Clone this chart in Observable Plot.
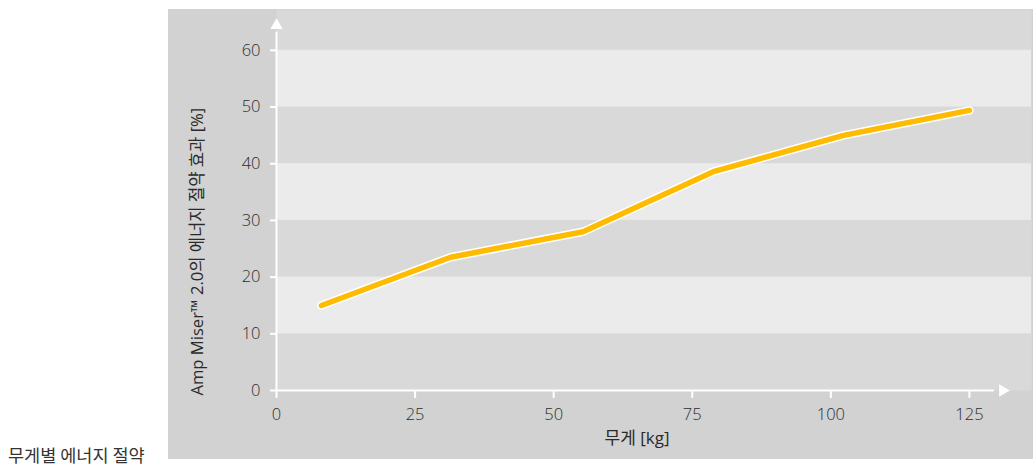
<!DOCTYPE html>
<html>
<head>
<meta charset="utf-8">
<script src="https://cdn.jsdelivr.net/npm/d3@7"></script>
<script src="https://cdn.jsdelivr.net/npm/@observablehq/plot@0.6"></script>
<style>
  html, body { margin: 0; padding: 0; background: #ffffff; }
  body { width: 1033px; height: 465px; position: relative; overflow: hidden;
         font-family: "Open Sans", "Noto Sans CJK KR", sans-serif; }
  #chart { position: absolute; left: 168px; top: 9px; }
  #caption { position: absolute; left: 8px; top: 443px; font-size: 17.5px; line-height: 24px; color: #333333;
             font-family: "Noto Sans CJK KR", sans-serif; font-weight: 400; }
</style>
</head>
<body>
<div id="chart"></div>
<div id="caption">무게별 에너지 절약</div>
<script>
// ---- data ----
const weights = [8.1, 31.4, 55.3, 78.8, 102.3, 125.0];
const savings = [15.0, 23.5, 28.0, 38.6, 45.0, 49.4];
const xTicks = [0, 25, 50, 75, 100, 125];
const yTicks = [0, 10, 20, 30, 40, 50, 60];
const bandStarts = [10, 30, 50];          // lighter horizontal bands (each 10 wide)
const xLabel = "무게 [kg]";
const yLabel = "Amp Miser™ 2.0의 에너지 절약 효과 [%]";
const xDomain = [0, 136.2];
const yDomain = [0, 67.2];
const xAxisEnd = 129.5;   // where the x axis line meets its arrowhead
const yAxisEnd = 63.2;    // where the y axis line meets its arrowhead
const xArrowAt = 131.0;
const yArrowAt = 64.4;

const data = weights.map((w, i) => ({w, s: savings[i]}));
const bands = bandStarts.map(b => ({y1: b, y2: b + 10}));

const textColor = "#2e2e2e";
const font = "\"Open Sans\", \"Noto Sans CJK KR\", sans-serif";

const chart = Plot.plot({
  width: 865,
  height: 450,
  marginLeft: 108,
  marginRight: 2,
  marginTop: 0,
  marginBottom: 69,
  style: { background: "#d1d2d1", fontSize: "16px", fontFamily: font, color: textColor, overflow: "visible" },
  x: { domain: xDomain },
  y: { domain: yDomain },
  marks: [
    Plot.frame({ fill: "#d9d9d9", stroke: null }),
    Plot.rect(bands, { y1: "y1", y2: "y2", fill: "#ebebeb" }),
    // axis lines
    Plot.ruleY([0], { x1: 0, x2: xAxisEnd, stroke: "white", strokeWidth: 2 }),
    Plot.ruleX([0], { y1: 0, y2: yAxisEnd, stroke: "white", strokeWidth: 2 }),
    Plot.dot([0], { x: xArrowAt, y: 0, symbol: "triangle", r: 4.6, fill: "white", stroke: null, rotate: 90 }),
    Plot.dot([0], { x: 0, y: yArrowAt, symbol: "triangle", r: 4.6, fill: "white", stroke: null }),
    // axes
    Plot.axisY({ ticks: yTicks, tickSize: 6, tickPadding: 10, stroke: "white", strokeWidth: 2, fill: textColor, label: null, fontSize: 16.5, fontWeight: 300 }),
    Plot.axisX({ ticks: xTicks, tickSize: 8, tickPadding: 10, stroke: "white", strokeWidth: 2, fill: textColor, label: null, fontSize: 16.5, fontWeight: 300 }),
    // axis labels
    Plot.text([xLabel], { frameAnchor: "bottom", dx: -17, dy: 48, fill: "#2a2a2a", fontSize: 17, textAnchor: "middle", lineAnchor: "middle" }),
    Plot.text([yLabel], { frameAnchor: "bottom-left", dx: -79, dy: 5, rotate: -90, textAnchor: "start", lineAnchor: "middle", fill: "#2a2a2a", fontSize: 16.6 }),
    // line with white halo
    Plot.line(data, { x: "w", y: "s", stroke: "white", strokeWidth: 8.5, strokeLinecap: "round", strokeLinejoin: "round" }),
    Plot.line(data, { x: "w", y: "s", stroke: "#ffbb00", strokeWidth: 5.5, strokeLinecap: "round", strokeLinejoin: "round" })
  ]
});
document.getElementById("chart").appendChild(chart);
</script>
</body>
</html>
